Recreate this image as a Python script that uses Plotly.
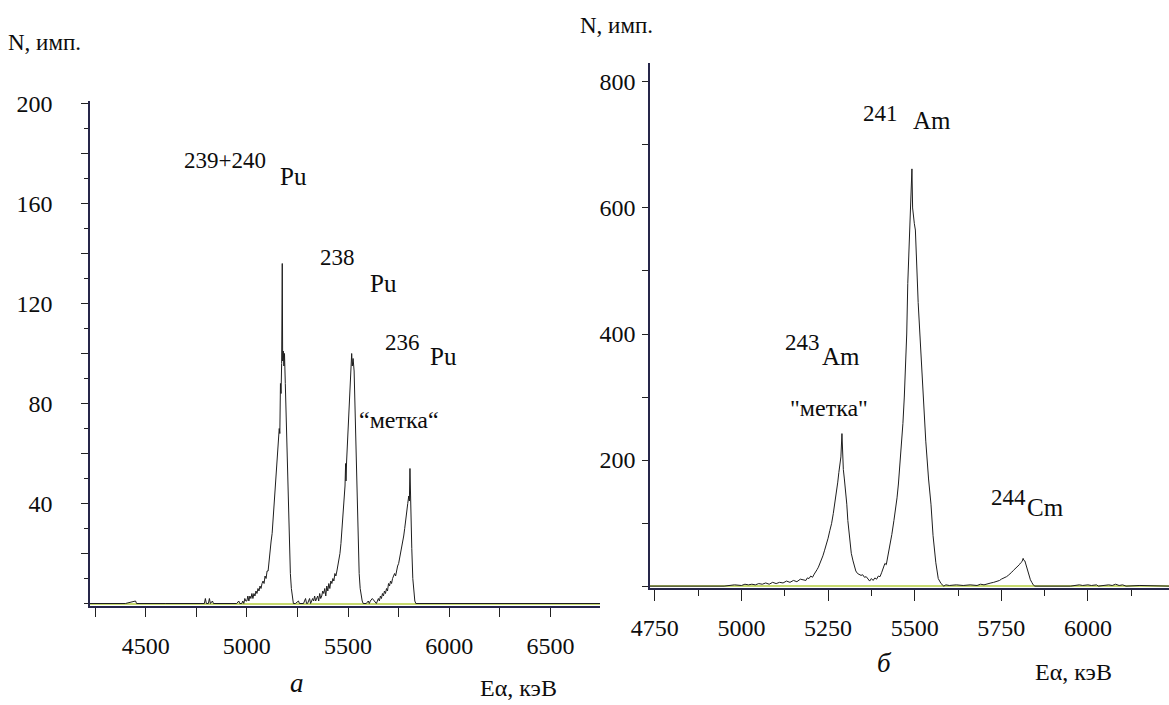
import plotly.graph_objects as go

W, H = 1169, 705

# ---------------- data: panel "а" (Pu spectrum) ----------------
energy_a = [4225, 4300, 4400, 4450, 4455, 4600, 4700, 4790, 4795, 4800, 4810, 4815, 4820, 4830, 4835,
            4900, 4950, 4960, 4965, 4975,
            4980, 4985, 4990, 4995, 5000, 5005, 5010, 5015, 5020, 5025, 5030, 5035, 5040, 5045, 5050,
            5055, 5060, 5065, 5070, 5075, 5080, 5085, 5090, 5095, 5100, 5105, 5110, 5115, 5120, 5125,
            5130, 5135, 5140, 5145, 5150, 5155, 5160, 5163, 5166, 5169, 5172, 5175, 5177, 5180, 5183,
            5186, 5190, 5195, 5200, 5205, 5210, 5215, 5220, 5225, 5230,
            5240, 5255, 5260, 5280, 5290, 5295,
            5300, 5305, 5310, 5315, 5320, 5325, 5330, 5335, 5340, 5345, 5350, 5355, 5360, 5365, 5370,
            5375, 5380, 5385, 5390, 5395, 5400, 5405, 5410, 5415, 5420, 5425, 5430, 5435, 5440, 5445,
            5450, 5455, 5460, 5465, 5470, 5475, 5480, 5485, 5488, 5490, 5493, 5496, 5500, 5505, 5510,
            5515, 5518, 5521, 5525, 5530, 5535, 5540, 5545, 5550, 5555, 5560, 5565, 5570, 5575,
            5590, 5600, 5605,
            5610, 5620, 5630, 5640, 5650, 5655, 5660, 5665, 5670, 5675, 5680, 5685, 5690, 5695, 5700,
            5705, 5710, 5715, 5720, 5725, 5730, 5735, 5740, 5745, 5750, 5755, 5760, 5765, 5770, 5775,
            5780, 5785, 5790, 5795, 5800, 5803, 5806, 5809, 5812, 5815, 5820, 5825, 5830, 5835,
            5900, 6000, 6100, 6300, 6500, 6745]
counts_a = [0, 0, 0, 1, 0, 0, 0, 0, 2, 0, 0, 2, 0, 1, 0,
            0, 0, 1, 0, 0,
            1, 0, 2, 1, 1, 3, 1, 3, 2, 4, 2, 4, 3, 5, 4,
            6, 5, 7, 6, 8, 9, 8, 11, 10, 13, 13, 18, 22, 25, 28,
            34, 39, 45, 52, 57, 63, 70, 68, 88, 84, 96, 136, 97, 101, 95,
            100, 88, 72, 55, 38, 22, 12, 6, 2, 0,
            0, 1, 0, 0, 2, 0,
            0, 1, 2, 0, 1, 2, 1, 3, 1, 2, 3, 1, 4, 2, 3,
            5, 4, 6, 3, 7, 5, 8, 6, 9, 8, 10, 9, 12, 11, 13,
            15, 17, 20, 24, 29, 34, 40, 47, 56, 49, 57, 62, 66, 75, 84,
            91, 100, 95, 98, 93, 76, 57, 38, 24, 12, 6, 3, 1, 0,
            0, 1, 0,
            1, 2, 1, 0, 2, 1, 3, 2, 4, 3, 5, 4, 6, 5, 8,
            7, 9, 8, 10, 11, 12, 11, 14, 15, 16, 18, 20, 22, 25, 27,
            30, 34, 36, 40, 43, 41, 54, 38, 30, 22, 10, 4, 1, 0,
            0, 0, 0, 0, 0, 0]

# ---------------- data: panel "б" (Am/Cm spectrum) ----------------
energy_b = [4736, 4800, 4850, 4860, 4900, 4950, 4980, 5000, 5010, 5020, 5030, 5040, 5050, 5060, 5070,
            5080, 5090, 5100, 5110, 5120, 5130, 5140, 5150, 5160, 5170,
            5180, 5186, 5190, 5195, 5200, 5205, 5210, 5214, 5218, 5222, 5226, 5230, 5235, 5240, 5245,
            5250, 5255, 5260, 5265, 5270, 5274, 5278, 5281, 5284, 5287, 5290, 5292, 5294, 5297, 5300,
            5304, 5307, 5310, 5313, 5317, 5322, 5326,
            5330, 5335, 5340, 5345, 5350, 5355, 5360, 5365, 5370, 5375, 5380, 5385, 5390, 5395, 5400,
            5405, 5410, 5414, 5418, 5423, 5428, 5434, 5440, 5445, 5449, 5453, 5457, 5461, 5466, 5470,
            5474, 5477, 5480, 5483, 5486, 5489, 5492, 5494, 5496, 5499, 5502, 5506, 5510, 5515, 5520,
            5524, 5528, 5532, 5540, 5547, 5553, 5561, 5568, 5576, 5584,
            5590, 5600, 5620, 5640, 5660, 5680, 5690, 5700,
            5705, 5711, 5720, 5728, 5737, 5745, 5750, 5755, 5760, 5765, 5770, 5775, 5780, 5785, 5789,
            5793, 5798, 5802, 5806, 5810, 5813, 5815, 5818, 5821, 5824, 5827, 5830, 5834, 5838, 5842,
            5847,
            5860, 5900, 5950, 5975, 5985, 6000, 6010, 6025, 6030, 6060, 6070, 6080, 6090, 6100, 6110,
            6150, 6200, 6234]
counts_b = [0, 0, 1, 0, 1, 0, 2, 1, 3, 2, 3, 2, 4, 3, 5,
            3, 6, 4, 6, 5, 8, 6, 9, 7, 11,
            10, 9, 13, 12, 16, 14, 19, 22, 26, 30, 35, 40, 48, 57, 65,
            76, 88, 99, 115, 132, 148, 165, 180, 195, 205, 242, 200, 185, 170, 155,
            130, 104, 85, 68, 52, 40, 30,
            24, 20, 19, 17, 18, 14, 15, 11, 8, 12, 9, 13, 11, 16, 15,
            22, 30, 36, 34, 49, 60, 82, 104, 122, 140, 162, 188, 222, 258, 300,
            350, 400, 480, 520, 565, 598, 662, 600, 585, 575, 565, 500, 450, 400, 345,
            300, 262, 230, 170, 130, 80, 37, 12, 4, 0,
            2, 1, 2, 1, 2, 1, 3, 2,
            3, 4, 5, 6, 7, 9, 11, 12, 14, 15, 17, 19, 22, 25, 27,
            29, 31, 34, 37, 39, 44, 41, 40, 34, 30, 23, 17, 10, 6, 2,
            0,
            0, 1, 0, 2, 1, 2, 1, 2, 0, 2, 1, 3, 1, 2, 0,
            1, 0, 0]

# tick labels
xticks_a = [4500, 5000, 5500, 6000, 6500]
yticks_a = [40, 80, 120, 160, 200]
xticks_b = [4750, 5000, 5250, 5500, 5750, 6000]
yticks_b = [200, 400, 600, 800]

FONT = "Liberation Serif"
INK = "#0d0d0d"

# left y axis: longer tick every 20 counts, labels only at the listed values
ytickvals_a = list(range(20, 201, 20))
yticktext_a = [str(v) if v in yticks_a else "" for v in ytickvals_a]


def px(x):
    return x / W


def py(y):
    return 1 - y / H


fig = go.Figure()
fig.add_trace(go.Scatter(x=energy_a, y=counts_a, mode="lines",
                         line=dict(color="#1e1e1e", width=1), xaxis="x", yaxis="y",
                         showlegend=False, hoverinfo="x+y"))
fig.add_trace(go.Scatter(x=energy_b, y=counts_b, mode="lines",
                         line=dict(color="#1e1e1e", width=1), xaxis="x2", yaxis="y2",
                         showlegend=False, hoverinfo="x+y"))

tickfont = dict(family=FONT, size=24, color=INK)
axis_common = dict(showgrid=False, showline=True, linecolor="#26264a", linewidth=1.6,
                   tickcolor="#222", tickfont=tickfont, zeroline=False, fixedrange=True,
                   automargin=False)

fig.update_layout(
    width=W, height=H,
    margin=dict(l=0, r=0, t=0, b=0, autoexpand=False),
    paper_bgcolor="white", plot_bgcolor="white",
    showlegend=False,
    font=dict(family=FONT),
    xaxis=dict(axis_common, domain=[px(90), px(600)], range=[4225, 6745],
               tickmode="array", tickvals=xticks_a, ticktext=[str(v) for v in xticks_a],
               ticks="outside", ticklen=9, tickwidth=1.3, ticklabelstandoff=8,
               minor=dict(dtick=250, tick0=4250, ticks="outside", ticklen=9, tickwidth=1.3,
                          tickcolor="#222"),
               anchor="y"),
    yaxis=dict(axis_common, domain=[py(606), py(101)], range=[-1, 201],
               tickmode="array", tickvals=ytickvals_a, ticktext=yticktext_a,
               ticks="outside", ticklen=7, tickwidth=1.3, ticklabelstandoff=24,
               minor=dict(dtick=10, tick0=0, ticks="outside", ticklen=4, tickwidth=1.3,
                          tickcolor="#222"),
               zeroline=True, zerolinecolor="#c6d96f", zerolinewidth=1.6,
               anchor="x"),
    xaxis2=dict(axis_common, domain=[px(650), 1.0], range=[4736, 6234],
                tickmode="array", tickvals=xticks_b, ticktext=[str(v) for v in xticks_b],
                ticks="outside", ticklen=11, tickwidth=1.3, ticklabelstandoff=6,
                minor=dict(dtick=125, tick0=4750, ticks="outside", ticklen=6, tickwidth=1.3,
                           tickcolor="#222"),
                anchor="y2"),
    yaxis2=dict(axis_common, domain=[py(588), py(63)], range=[-3, 830],
                tickmode="array", tickvals=yticks_b, ticktext=[str(v) for v in yticks_b],
                ticks="outside", ticklen=6, tickwidth=1.3, ticklabelstandoff=2,
                minor=dict(dtick=100, tick0=0, ticks="outside", ticklen=6, tickwidth=1.3,
                           tickcolor="#222"),
                zeroline=True, zerolinecolor="#c6d96f", zerolinewidth=1.6,
                anchor="x2"),
)

labels = [
    # panel а
    ("N, имп.", 44, 43, 23, False),
    ("239+240", 225, 160, 23, False),
    ("Pu", 293, 176, 25, False),
    ("238", 337, 257, 23, False),
    ("Pu", 383, 283, 25, False),
    ("236", 402, 343, 23, False),
    ("Pu", 443, 357, 25, False),
    ("“метка“", 399, 420, 24, False),
    ("а", 297, 683, 27, True),
    ("Eα, кэВ", 518, 688, 24, False),
    # panel б
    ("N, имп.", 616, 25, 23, False),
    ("241", 880, 113, 23, False),
    ("Am", 932, 120, 25, False),
    ("243", 802, 343, 23, False),
    ("Am", 841, 357, 25, False),
    ("\"метка\"", 829, 408, 24, False),
    ("244", 1008, 497, 23, False),
    ("Cm", 1045, 507, 25, False),
    ("б", 884, 663, 27, True),
    ("Eα, кэВ", 1073, 672, 24, False),
]
for text, x, y, size, italic in labels:
    fig.add_annotation(text=f"<i>{text}</i>" if italic else text,
                       x=px(x), y=py(y), xref="paper", yref="paper",
                       xanchor="center", yanchor="middle", showarrow=False,
                       font=dict(family=FONT, size=size, color=INK))

fig.write_html("out.html", config={"displayModeBar": False},
               post_script="document.body.style.margin='0';")
